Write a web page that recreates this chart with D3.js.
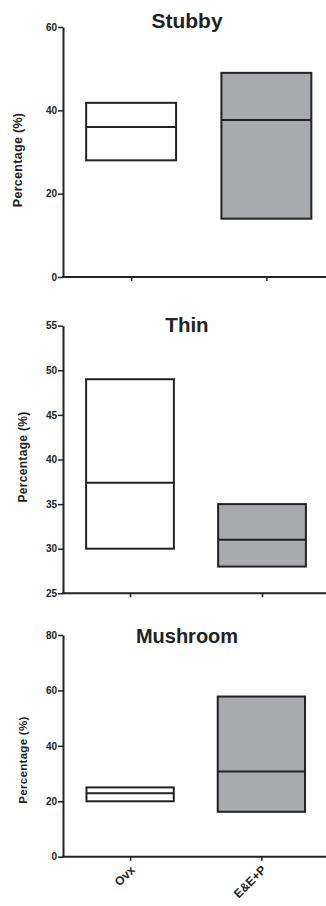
<!DOCTYPE html>
<html>
<head>
<meta charset="utf-8">
<script src="https://cdn.jsdelivr.net/npm/d3@7"></script>
<style>
  body { margin: 0; background: #fff; }
  svg text { font-family: "Liberation Sans", Arial, sans-serif; fill: #222; }
</style>
</head>
<body>
<svg id="chart"></svg>
<script>
// data
const groups = ["Ovx", "E&E+P"]
const titles = ["Stubby", "Thin", "Mushroom"]
const lows = [[28, 14], [30, 28], [20, 16.2]]
const medians = [[36, 37.7], [37.4, 31], [22.9, 30.7]]
const highs = [[41.8, 49], [49, 35], [25, 57.8]]
const yDomains = [[0, 60], [25, 55], [0, 80]]
const yTicks = [[0, 20, 40, 60], [25, 30, 35, 40, 45, 50, 55], [0, 20, 40, 60, 80]]
const fills = ["#ffffff", "#a9aaae"]

// layout of each panel (pixels)
const panels = [
  {top: 27, bottom: 277, xr: [63.5, 334], titleY: 28, titleSize: 21, labX: 18, labY: 160, labSize: 12.5},
  {top: 325.7, bottom: 593.3, xr: [64, 328], titleY: 332, titleSize: 20.5, labX: 23, labY: 457, labSize: 12},
  {top: 635, bottom: 856.7, xr: [64.5, 327], titleY: 643, titleSize: 20, labX: 23, labY: 760, labSize: 11.5}
]

const width = 326, height = 906
const axisX = 63
const stroke = "#222"

const svg = d3.select("#chart").attr("width", width).attr("height", height)

panels.forEach(function(p, i){
  const g = svg.append("g")

  const y = d3.scaleLinear().domain(yDomains[i]).range([p.bottom, p.top])
  const x = d3.scalePoint().domain(groups).range(p.xr).padding(0.5)
  const boxW = x.step() * 0.665

  // boxes
  const box = g.selectAll("g.box")
    .data(groups)
    .enter()
    .append("g")
    .attr("class", "box")

  box.append("rect")
    .attr("x", d => x(d) - boxW/2)
    .attr("width", boxW)
    .attr("y", (d, j) => y(highs[i][j]))
    .attr("height", (d, j) => y(lows[i][j]) - y(highs[i][j]))
    .attr("fill", (d, j) => fills[j])
    .attr("stroke", stroke)
    .attr("stroke-width", 2)

  box.append("line")
    .attr("x1", d => x(d) - boxW/2)
    .attr("x2", d => x(d) + boxW/2)
    .attr("y1", (d, j) => y(medians[i][j]))
    .attr("y2", (d, j) => y(medians[i][j]))
    .attr("stroke", stroke)
    .attr("stroke-width", 2)

  // y axis
  const yAxis = g.append("g")
    .attr("transform", `translate(${axisX},0)`)
    .call(d3.axisLeft(y).tickValues(yTicks[i]).tickSize(5).tickSizeOuter(0))
  yAxis.select(".domain").attr("stroke", stroke).attr("stroke-width", 2)
  yAxis.selectAll(".tick line").attr("stroke", stroke).attr("stroke-width", 1.5)
  yAxis.selectAll(".tick text")
    .attr("x", -6)
    .style("font-size", "10px")
    .style("font-weight", "bold")
    .attr("fill", stroke)

  // x axis, its line runs to the right edge
  const xAxis = g.append("g")
    .attr("transform", `translate(0,${p.bottom})`)
    .call(d3.axisBottom(x).tickSize(4).tickSizeOuter(0))
  xAxis.select(".domain")
    .attr("d", `M${axisX - 1},0H${width}`)
    .attr("stroke", stroke).attr("stroke-width", 2)
  xAxis.selectAll(".tick line").attr("stroke", stroke).attr("stroke-width", 1.5)
  if (i === panels.length - 1){
    xAxis.selectAll(".tick text")
      .attr("y", 0).attr("dy", 0)
      .attr("text-anchor", "end")
      .attr("transform", "translate(5,14) rotate(-45)")
      .style("font-size", "12px")
      .style("font-weight", "bold")
      .attr("fill", stroke)
  } else {
    xAxis.selectAll(".tick text").remove()
  }

  // title
  g.append("text")
    .attr("x", 187)
    .attr("y", p.titleY)
    .attr("text-anchor", "middle")
    .style("font-size", p.titleSize + "px")
    .style("font-weight", "bold")
    .text(titles[i])

  // y label
  g.append("text")
    .attr("transform", `translate(${p.labX + 4},${p.labY}) rotate(-90)`)
    .attr("text-anchor", "middle")
    .style("font-size", p.labSize + "px")
    .style("font-weight", "bold")
    .style("letter-spacing", "0.3px")
    .text("Percentage (%)")
})
</script>
</body>
</html>
